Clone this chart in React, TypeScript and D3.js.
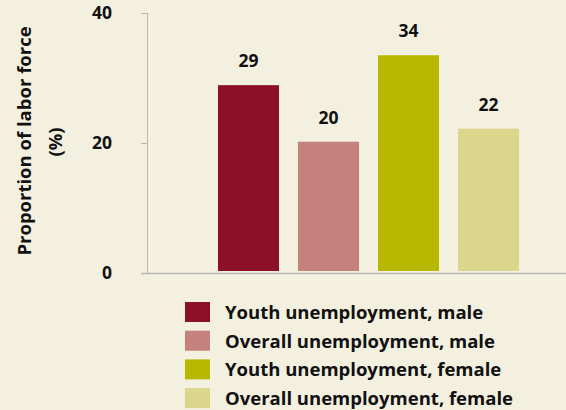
import React from "react";
import * as d3 from "d3";

const categories = [
  "Youth unemployment, male",
  "Overall unemployment, male",
  "Youth unemployment, female",
  "Overall unemployment, female",
];
const values = [28.9, 20.2, 33.5, 22.2];
const colors = ["#8c1127", "#c4817d", "#b9b800", "#dbd68c"];
const yTicks = [0, 20, 40];

const W = 566;
const H = 410;
const FONT = "'Open Sans', 'Noto Sans', sans-serif";

export default function App() {
  const y = d3.scaleLinear().domain([0, 40]).range([273, 13]);
  const x = d3.scaleBand<string>().domain(categories).range([218, 519]).paddingInner(0.2375).paddingOuter(0);
  return (
    <svg width={W} height={H} style={{ position: "absolute", left: 0, top: 0, background: "#f4f0df" }}>
      <rect x={0} y={0} width={W} height={H} fill="#f4f0df" />
      <line x1={147.5} x2={147.5} y1={y(40)} y2={y(0)} stroke="#b8b8b0" strokeWidth={1} />
      <line x1={141} x2={W} y1={y(0) + 0.5} y2={y(0) + 0.5} stroke="#b8b8b0" strokeWidth={1.5} />
      {yTicks.map((t) => (
        <g key={t}>
          <line x1={141} x2={147.5} y1={y(t) + 0.5} y2={y(t) + 0.5} stroke="#b8b8b0" />
          <text x={112} y={y(t)} dy="0.36em" textAnchor="end" fontFamily={FONT} fontWeight={700} fontSize={17.5} fill="#111">
            {t}
          </text>
        </g>
      ))}
      <text transform={`translate(24,141) rotate(-90)`} dy="0.36em" textAnchor="middle" fontFamily={FONT} fontWeight={700} fontSize={18.5} fill="#111">
        Proportion of labor force
      </text>
      <text transform={`translate(55,142) rotate(-90)`} dy="0.36em" textAnchor="middle" fontFamily={FONT} fontWeight={700} fontSize={18.5} fill="#111">
        (%)
      </text>
      {categories.map((c, i) => (
        <g key={c}>
          <rect x={x(c)} y={y(values[i])} width={x.bandwidth()} height={y(0) - y(values[i]) - 2} fill={colors[i]} />
          <text x={(x(c) ?? 0) + x.bandwidth() / 2} y={y(values[i]) - 18} textAnchor="middle" fontFamily={FONT} fontWeight={700} fontSize={17.5} fill="#111">
            {Math.round(values[i])}
          </text>
        </g>
      ))}
      {categories.map((c, i) => (
        <g key={"l" + c} transform={`translate(185,${302 + i * 28.7})`}>
          <rect x={0} y={0} width={25} height={20} fill={colors[i]} />
          <text x={40} y={17} fontFamily={FONT} fontWeight={700} fontSize={18.5} fill="#111">
            {c}
          </text>
        </g>
      ))}
    </svg>
  );
}
